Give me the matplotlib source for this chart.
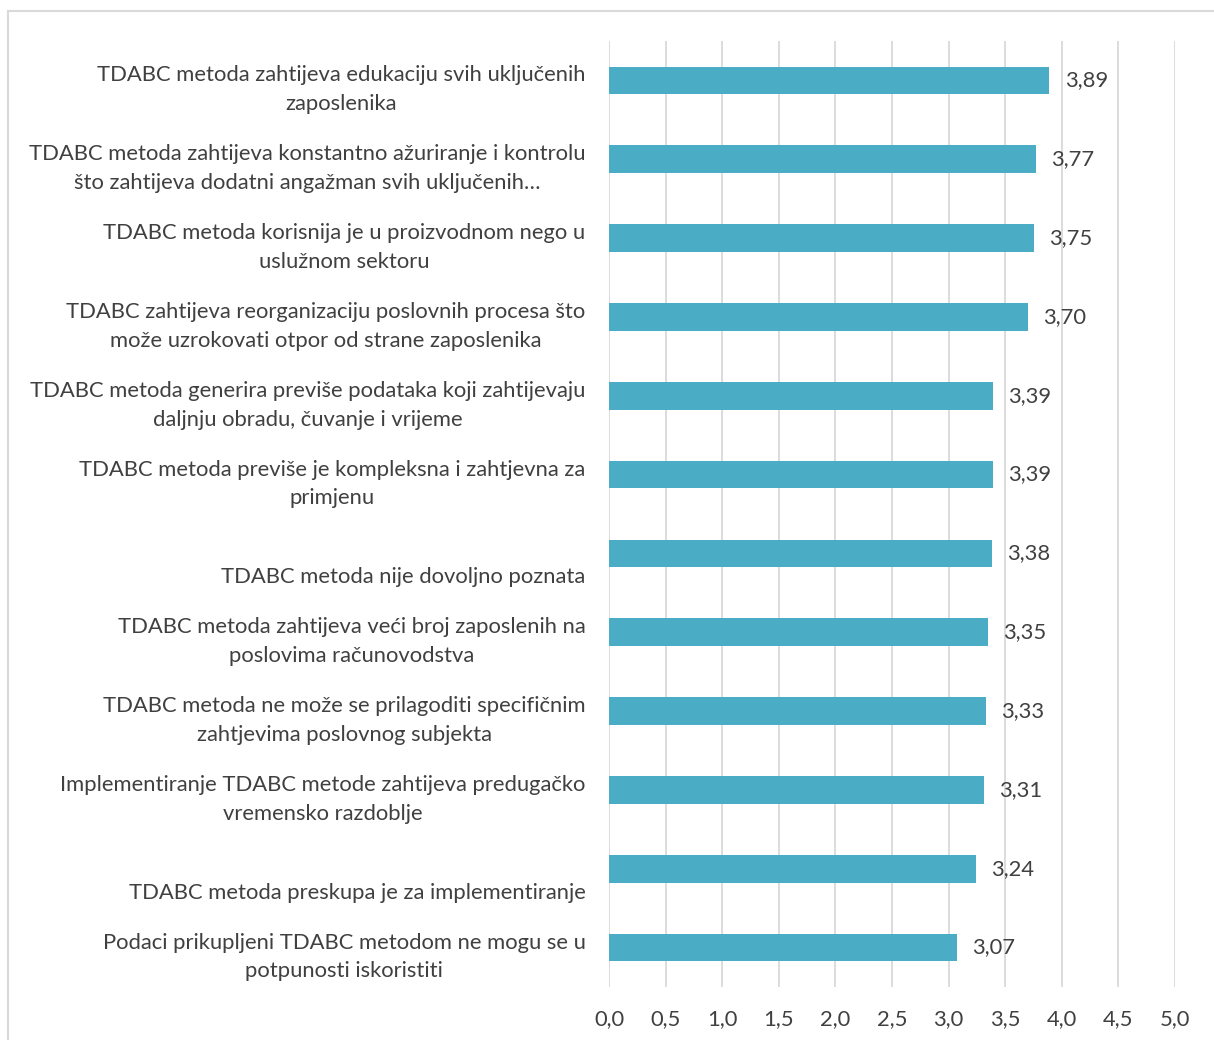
import matplotlib
matplotlib.use("Agg")
import matplotlib.pyplot as plt
from matplotlib.lines import Line2D
from matplotlib.transforms import ScaledTranslation

categories = [
    "TDABC metoda zahtijeva edukaciju svih uključenih\nzaposlenika",
    "TDABC metoda zahtijeva konstantno ažuriranje i kontrolu\nšto zahtijeva dodatni angažman svih uključenih…",
    "TDABC metoda korisnija je u proizvodnom nego u\nuslužnom sektoru",
    "TDABC zahtijeva reorganizaciju poslovnih procesa što\nmože uzrokovati otpor od strane zaposlenika",
    "TDABC metoda generira previše podataka koji zahtijevaju\ndaljnju obradu, čuvanje i vrijeme",
    "TDABC metoda previše je kompleksna i zahtjevna za\nprimjenu",
    "TDABC metoda nije dovoljno poznata",
    "TDABC metoda zahtijeva veći broj zaposlenih na\nposlovima računovodstva",
    "TDABC metoda ne može se prilagoditi specifičnim\nzahtjevima poslovnog subjekta",
    "Implementiranje TDABC metode zahtijeva predugačko\nvremensko razdoblje",
    "TDABC metoda preskupa je za implementiranje",
    "Podaci prikupljeni TDABC metodom ne mogu se u\npotpunosti iskoristiti",
]
values = [3.89, 3.77, 3.75, 3.70, 3.39, 3.39, 3.38, 3.35, 3.33, 3.31, 3.24, 3.07]
xticks = [0.0, 0.5, 1.0, 1.5, 2.0, 2.5, 3.0, 3.5, 4.0, 4.5, 5.0]

TXT = "#404040"
GRID = "#d9d9d9"
BAR = "#4BACC6"
FONT = ["Lato", "DejaVu Sans"]
plt.rcParams["font.family"] = FONT
FS = 15.8

W, H = 1214, 1040
fig = plt.figure(figsize=(W / 100, H / 100), dpi=100)
ax = fig.add_axes([609 / W, 1 - 987 / H, (1175 - 609) / W, (987 - 41) / H])

n = len(categories)
ypos = list(range(n))
ax.barh(ypos, values, height=0.35, color=BAR, zorder=3)
ax.set_ylim(n - 0.5, -0.5)
ax.set_xlim(0, 5.0)
ax.set_xticks(xticks)
ax.set_xticklabels([f"{t:.1f}".replace(".", ",") for t in xticks], fontsize=FS, color=TXT)
ax.set_yticks(ypos)
ax.set_yticklabels(categories, fontsize=FS, color=TXT)
ax.tick_params(axis="both", length=0)
ax.tick_params(axis="x", pad=16)
ax.tick_params(axis="y", pad=17)
ax.grid(axis="x", color=GRID, linewidth=1.3, zorder=0)
for s in ax.spines.values():
    s.set_visible(False)

off = ScaledTranslation(0, -21.5 / 72, fig.dpi_scale_trans)
for lab in ax.get_yticklabels():
    lab.set_verticalalignment("baseline")
    lab.set_multialignment("center")
    lab.set_linespacing(1.55)
    lab.set_transform(lab.get_transform() + off)

for y, v in zip(ypos, values):
    ax.annotate(f"{v:.2f}".replace(".", ","), (v, y), xytext=(11, 0), textcoords="offset points",
                ha="left", va="center", fontsize=FS, color=TXT)

fig.add_artist(Line2D([8 / W, 8 / W], [0, 1 - 11 / H], color=GRID, lw=1.5))
fig.add_artist(Line2D([8 / W, 1], [1 - 11 / H, 1 - 11 / H], color=GRID, lw=1.5))

fig.savefig("out.png", dpi=100, facecolor="white")
